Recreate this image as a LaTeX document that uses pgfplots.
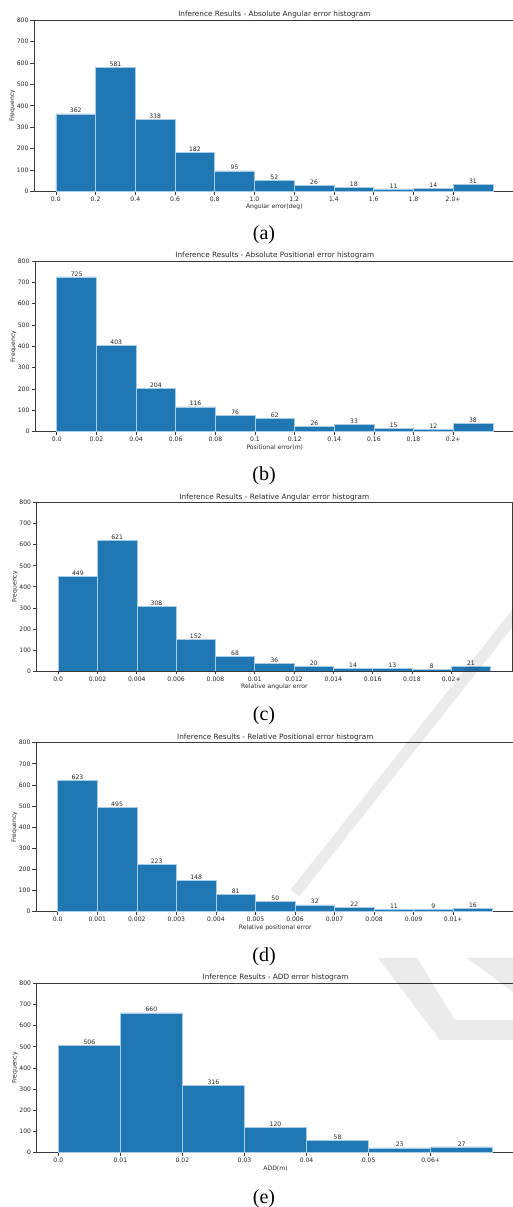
\documentclass[border=0pt]{standalone}
\usepackage{pgfplots}
\pgfplotsset{compat=1.18}
\usepackage{fontspec}
\setmainfont{DejaVu Sans}
\newfontfamily\capfont{Liberation Serif}
\definecolor{tabblue}{HTML}{1F77B4}
\definecolor{edgeblue}{HTML}{A9CBE6}
\definecolor{spine}{HTML}{3A3A3A}
\definecolor{txt}{HTML}{262626}
\newcommand{\sm}{\fontsize{6.1}{7.3}\selectfont}
\pgfplotsset{
 every axis title shift=0pt,
 hist/.style={
  scale only axis, width=479pt, height=170pt,
  anchor=north west,
  ymin=0, ymax=800, ytick={0,100,...,800},
  axis line style={spine, line width=0.7pt},
  tick style={spine, line width=0.7pt},
  major tick length=3.5pt,
  tick align=outside,
  tick pos=left,
  ticklabel style={font=\sm, text=txt},
  /pgf/number format/assume math mode=true,
  yticklabel style={anchor=east, inner sep=0pt, xshift=-1.8pt},
  xticklabel style={anchor=north, inner sep=0pt, yshift=-2pt},
  xlabel style={font=\sm, text=txt, at={(axis description cs:0.5,0)}, anchor=center, yshift=-15.7pt},
  ylabel style={font=\sm, text=txt, at={([xshift=-21.5pt]axis description cs:0,0.5)}, anchor=center},
  title style={font=\fontsize{7.3}{8.8}\selectfont, text=txt, at={(axis description cs:0.5,1)}, anchor=base, yshift=3.6pt, inner sep=0pt},
  ylabel={Frequency},
 },
 bars/.style={ybar, bar width=1, fill=tabblue, draw=edgeblue, line width=0.6pt,
   nodes near coords, every node near coord/.append style={font=\sm, text=txt, anchor=south, inner sep=0.6pt}},
}
\begin{document}
\begin{tikzpicture}
% (a)
\begin{axis}[hist, at={(34pt,1186.7pt)}, height=171pt, width=480.7pt,
  xmin=-0.55, xmax=11.55, xtick={0,...,10},
  xticklabels={0.0,0.2,0.4,0.6,0.8,1.0,1.2,1.4,1.6,1.8,2.0+},
  title={Inference Results - Absolute Angular error histogram},
  xlabel={Angular error(deg)}]
\addplot[bars] coordinates {(0.5,362) (1.5,581) (2.5,338) (3.5,182) (4.5,95) (5.5,52) (6.5,26) (7.5,18) (8.5,11) (9.5,14) (10.5,31)};
\end{axis}
% (b)
\begin{axis}[hist, at={(35pt,946pt)}, height=170.7pt, width=479.6pt,
  xmin=-0.55, xmax=11.55, xtick={0,...,10},
  xticklabels={0.0,0.02,0.04,0.06,0.08,0.1,0.12,0.14,0.16,0.18,0.2+},
  title={Inference Results - Absolute Positional error histogram},
  xlabel={Positional error(m)}]
\addplot[bars] coordinates {(0.5,725) (1.5,403) (2.5,204) (3.5,116) (4.5,76) (5.5,62) (6.5,26) (7.5,33) (8.5,15) (9.5,12) (10.5,38)};
\end{axis}
% (c)
\begin{axis}[hist, at={(36.6pt,704.3pt)}, height=168.3pt, width=475.6pt,
  xmin=-0.55, xmax=11.55, xtick={0,...,10},
  xticklabels={0.0,0.002,0.004,0.006,0.008,0.01,0.012,0.014,0.016,0.018,0.02+},
  title={Inference Results - Relative Angular error histogram},
  xlabel={Relative angular error}]
\addplot[bars] coordinates {(0.5,449) (1.5,621) (2.5,308) (3.5,152) (4.5,68) (5.5,36) (6.5,20) (7.5,14) (8.5,13) (9.5,8) (10.5,21)};
\end{axis}
% (d)
\begin{axis}[hist, at={(36pt,464.3pt)}, height=169pt, width=478.5pt,
  xmin=-0.55, xmax=11.55, xtick={0,...,10},
  xticklabels={0.0,0.001,0.002,0.003,0.004,0.005,0.006,0.007,0.008,0.009,0.01+},
  title={Inference Results - Relative Positional error histogram},
  xlabel={Relative positional error}]
\addplot[bars] coordinates {(0.5,623) (1.5,495) (2.5,223) (3.5,148) (4.5,81) (5.5,50) (6.5,32) (7.5,22) (8.5,11) (9.5,9) (10.5,16)};
\end{axis}
% (e)
\begin{axis}[hist, at={(36.6pt,223.7pt)}, height=169.4pt, width=477.9pt,
  xmin=-0.35, xmax=7.35, xtick={0,...,6},
  xticklabels={0.0,0.01,0.02,0.03,0.04,0.05,0.06+},
  title={Inference Results - ADD error histogram},
  xlabel={ADD(m)}]
\addplot[bars] coordinates {(0.5,506) (1.5,660) (2.5,316) (3.5,120) (4.5,58) (5.5,23) (6.5,27)};
\end{axis}
% captions
\node[anchor=base, font=\capfont\fontsize{20}{24}\selectfont] at (264pt,967pt) {(a)};
\node[anchor=base, font=\capfont\fontsize{20}{24}\selectfont] at (264pt,726pt) {(b)};
\node[anchor=base, font=\capfont\fontsize{20}{24}\selectfont] at (264pt,486pt) {(c)};
\node[anchor=base, font=\capfont\fontsize{20}{24}\selectfont] at (264pt,245pt) {(d)};
\node[anchor=base, font=\capfont\fontsize{20}{24}\selectfont] at (264pt,4pt) {(e)};
% faint publisher watermark strokes (shapes only)
\begin{scope}[opacity=0.08]
\draw[line width=11pt, line cap=butt] (527pt,607pt) -- (295pt,314pt);
\fill (378pt,249pt) -- (417pt,249pt) -- (455pt,187pt) -- (513pt,187pt) -- (513pt,167pt) -- (440pt,167pt) -- cycle;
\fill (467pt,249pt) -- (513pt,249pt) -- (513pt,215pt) -- cycle;
\end{scope}
\pgfresetboundingbox
\useasboundingbox (0pt,0pt) rectangle (513pt,1207pt);
\end{tikzpicture}
\end{document}
